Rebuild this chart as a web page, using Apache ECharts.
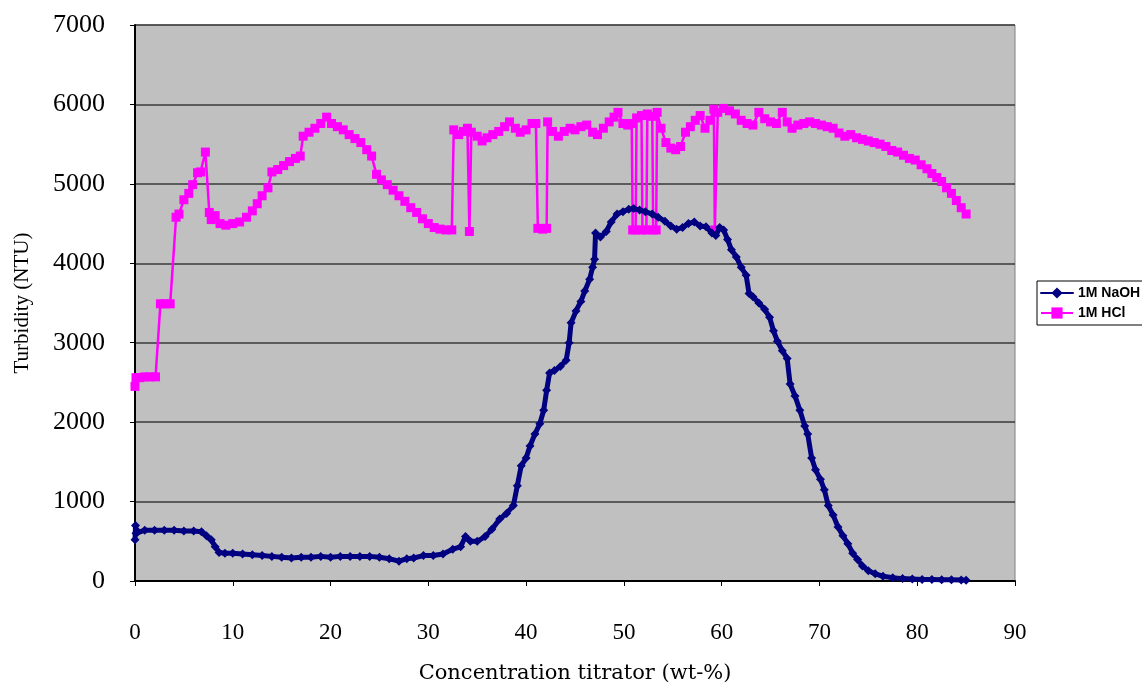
<!DOCTYPE html>
<html>
<head>
<meta charset="utf-8">
<script src="https://cdn.jsdelivr.net/npm/echarts@6/dist/echarts.min.js"></script>
<style>
  html, body { margin: 0; padding: 0; background: #ffffff; }
  #chart { width: 1142px; height: 689px; }
</style>
</head>
<body>
<div id="chart"></div>
<script>
// Turbidity during titration with 1M NaOH and 1M HCl
const xTicks = [0, 10, 20, 30, 40, 50, 60, 70, 80, 90];
const yTicks = [0, 1000, 2000, 3000, 4000, 5000, 6000, 7000];

const naohX = [0, 0.05, 0.1, 0.3, 1, 2, 3, 4, 5, 6, 6.8, 7.3, 7.8, 8.2, 8.6, 9.2, 10, 11, 12, 13, 14, 15, 16, 17, 18, 19, 20, 21, 22, 23, 24, 25, 26, 27, 27.8, 28.5, 29.5, 30.5, 31.5, 32.5, 33.3, 33.8, 34.3, 35, 35.8, 36.5, 37.3, 38, 38.7, 39.1, 39.5, 40, 40.4, 40.9, 41.4, 41.8, 42.1, 42.4, 42.9, 43.5, 44.1, 44.4, 44.6, 45.1, 45.6, 46, 46.5, 46.8, 47, 47.1, 47.6, 48.2, 48.7, 49.3, 49.9, 50.5, 51, 51.6, 52.2, 52.9, 53.5, 54.2, 54.8, 55.4, 56, 56.6, 57.2, 57.8, 58.4, 59, 59.4, 59.8, 60.2, 60.6, 61, 61.5, 62, 62.5, 62.8, 63.2, 63.8, 64.4, 64.9, 65.3, 65.7, 66.2, 66.7, 67, 67.5, 68, 68.5, 68.8, 69.2, 69.6, 70.1, 70.5, 70.9, 71.4, 71.9, 72.4, 72.9, 73.4, 73.9, 74.4, 75, 75.7, 76.5, 77.5, 78.5, 79.5, 80.5, 81.5, 82.5, 83.5, 84.5, 85];
const naohY = [520, 700, 600, 620, 640, 640, 640, 640, 630, 630, 620, 570, 520, 430, 360, 350, 350, 340, 330, 320, 310, 300, 290, 300, 300, 310, 300, 310, 310, 310, 310, 300, 280, 250, 280, 290, 320, 320, 340, 400, 430, 560, 500, 500, 560, 650, 780, 850, 950, 1200, 1450, 1550, 1700, 1850, 1980, 2150, 2400, 2620, 2650, 2700, 2780, 3000, 3250, 3400, 3520, 3650, 3800, 3950, 4050, 4380, 4330, 4400, 4520, 4620, 4650, 4680, 4690, 4670, 4650, 4620, 4580, 4530, 4470, 4430, 4450, 4500, 4520, 4470, 4460, 4380, 4350, 4450, 4420, 4300, 4170, 4080, 3950, 3850, 3620, 3580, 3500, 3420, 3320, 3150, 3020, 2900, 2800, 2480, 2330, 2150, 1950, 1850, 1550, 1400, 1280, 1150, 950, 830, 680, 570, 470, 350, 270, 190, 130, 90, 60, 40, 30, 25, 20, 20, 15, 15, 12, 10];

const hclX = [0, 0.1, 0.5, 1, 1.5, 2.1, 2.6, 3.1, 3.6, 4.2, 4.5, 5, 5.5, 5.9, 6.4, 6.7, 7.2, 7.6, 7.8, 8.2, 8.7, 9.3, 10, 10.7, 11.4, 12, 12.5, 13, 13.6, 14, 14.6, 15.2, 15.8, 16.4, 16.9, 17.2, 17.8, 18.4, 19, 19.6, 20.1, 20.7, 21.3, 21.9, 22.5, 23.1, 23.7, 24.2, 24.7, 25.2, 25.8, 26.4, 27, 27.6, 28.2, 28.8, 29.4, 30, 30.6, 31.2, 31.8, 32.4, 32.6, 33.1, 33.6, 34, 34.2, 34.4, 35, 35.5, 36, 36.6, 37.2, 37.8, 38.3, 38.9, 39.4, 40, 40.6, 41, 41.2, 41.7, 42.1, 42.2, 42.7, 43.3, 43.9, 44.5, 45, 45.6, 46.2, 46.8, 47.3, 47.9, 48.5, 49, 49.4, 49.9, 50.4, 50.8, 50.9, 51.2, 51.3, 51.8, 51.9, 52.3, 52.4, 52.9, 53, 53.3, 53.4, 53.8, 54.3, 54.8, 55.3, 55.8, 56.3, 56.8, 57.3, 57.8, 58.3, 58.8, 59.2, 59.3, 59.6, 60.2, 60.8, 61.4, 62, 62.6, 63.2, 63.8, 64.4, 65, 65.6, 66.2, 66.7, 67.2, 67.8, 68.4, 69, 69.6, 70.2, 70.8, 71.4, 72, 72.6, 73.2, 73.8, 74.4, 75, 75.6, 76.2, 76.8, 77.4, 78, 78.6, 79.2, 79.8, 80.4, 81, 81.5, 82, 82.5, 83, 83.5, 84, 84.5, 85];
const hclY = [2450, 2560, 2560, 2570, 2570, 2570, 3490, 3490, 3490, 4580, 4620, 4800, 4880, 4990, 5140, 5150, 5400, 4640, 4550, 4600, 4500, 4480, 4500, 4520, 4580, 4660, 4750, 4850, 4950, 5150, 5180, 5230, 5280, 5320, 5350, 5600, 5650, 5700, 5760, 5840, 5760, 5720, 5680, 5620, 5570, 5520, 5430, 5350, 5120, 5050, 4990, 4920, 4850, 4780, 4700, 4640, 4560, 4500, 4450, 4430, 4420, 4420, 5680, 5620, 5660, 5700, 4400, 5650, 5600, 5540, 5580, 5620, 5660, 5720, 5780, 5700, 5650, 5680, 5760, 5760, 4440, 4430, 4440, 5780, 5660, 5600, 5660, 5700, 5680, 5720, 5740, 5650, 5620, 5700, 5780, 5840, 5900, 5760, 5740, 5760, 4420, 4420, 5830, 5860, 4420, 4420, 5880, 5850, 4420, 4420, 5900, 5700, 5520, 5450, 5430, 5470, 5650, 5720, 5800, 5860, 5700, 5800, 5940, 4420, 5900, 5950, 5920, 5880, 5800, 5760, 5740, 5900, 5820, 5780, 5760, 5900, 5780, 5700, 5740, 5760, 5780, 5760, 5740, 5720, 5700, 5640, 5600, 5620, 5580, 5560, 5540, 5520, 5500, 5470, 5420, 5400, 5360, 5320, 5300, 5240, 5190, 5130, 5080, 5030, 4950, 4880, 4790, 4700, 4620];

const pairs = (xs, ys) => xs.map((x, i) => [x, ys[i]]);

const chart = echarts.init(document.getElementById('chart'), null, { renderer: 'canvas' });

chart.setOption({
  animation: false,
  backgroundColor: '#ffffff',
  grid: {
    left: 135, right: 127, top: 25, bottom: 106,
    show: true,
    backgroundColor: '#c0c0c0',
    borderColor: '#808080',
    borderWidth: 1
  },
  legend: {
    orient: 'vertical',
    left: 1037,
    top: 281,
    padding: [5, 4, 5, 3],
    itemGap: 6,
    itemWidth: 32,
    itemHeight: 14,
    backgroundColor: '#ffffff',
    borderColor: '#000000',
    borderWidth: 1,
    borderRadius: 0,
    textStyle: { fontFamily: 'Liberation Sans', fontSize: 14, fontWeight: 'bold', color: '#000000' },
    data: ['1M NaOH', '1M HCl']
  },
  xAxis: {
    type: 'value',
    min: xTicks[0],
    max: xTicks[xTicks.length - 1],
    interval: 10,
    name: 'Concentration titrator (wt-%)',
    nameLocation: 'middle',
    nameGap: 82,
    nameTextStyle: { fontFamily: 'DejaVu Serif', fontSize: 21, color: '#000000' },
    axisLine: { show: true, onZero: false, lineStyle: { color: '#000000', width: 2 } },
    axisTick: { show: true, length: 5, lineStyle: { color: '#000000', width: 1 } },
    axisLabel: {
      margin: 40, fontFamily: 'Liberation Serif', fontSize: 23, color: '#000000',
      formatter: (v) => String(v)
    },
    splitLine: { show: false }
  },
  yAxis: {
    type: 'value',
    min: yTicks[0],
    max: yTicks[yTicks.length - 1],
    interval: 1000,
    name: 'Turbidity (NTU)',
    nameLocation: 'middle',
    nameGap: 102,
    nameTextStyle: { fontFamily: 'Liberation Serif', fontSize: 21, color: '#000000' },
    axisLine: { show: true, onZero: false, lineStyle: { color: '#000000', width: 2 } },
    axisTick: { show: true, length: 5, lineStyle: { color: '#000000', width: 1 } },
    axisLabel: {
      margin: 30, fontFamily: 'Liberation Serif', fontSize: 26, color: '#000000',
      formatter: (v) => String(v)
    },
    splitLine: { show: true, lineStyle: { color: '#3a3a3a', width: 1.5 } }
  },
  series: [
    {
      name: '1M NaOH',
      type: 'line',
      data: pairs(naohX, naohY),
      color: '#000080',
      symbol: 'diamond',
      symbolSize: 9,
      showAllSymbol: true,
      lineStyle: { color: '#000080', width: 5, join: 'round', cap: 'round' },
      itemStyle: { color: '#000080' },
      z: 3
    },
    {
      name: '1M HCl',
      type: 'line',
      data: pairs(hclX, hclY),
      color: '#ff00ff',
      symbol: 'rect',
      symbolSize: 9,
      showAllSymbol: true,
      lineStyle: { color: '#ff00ff', width: 2.5 },
      itemStyle: { color: '#ff00ff' },
      z: 2
    }
  ]
});
</script>
</body>
</html>
